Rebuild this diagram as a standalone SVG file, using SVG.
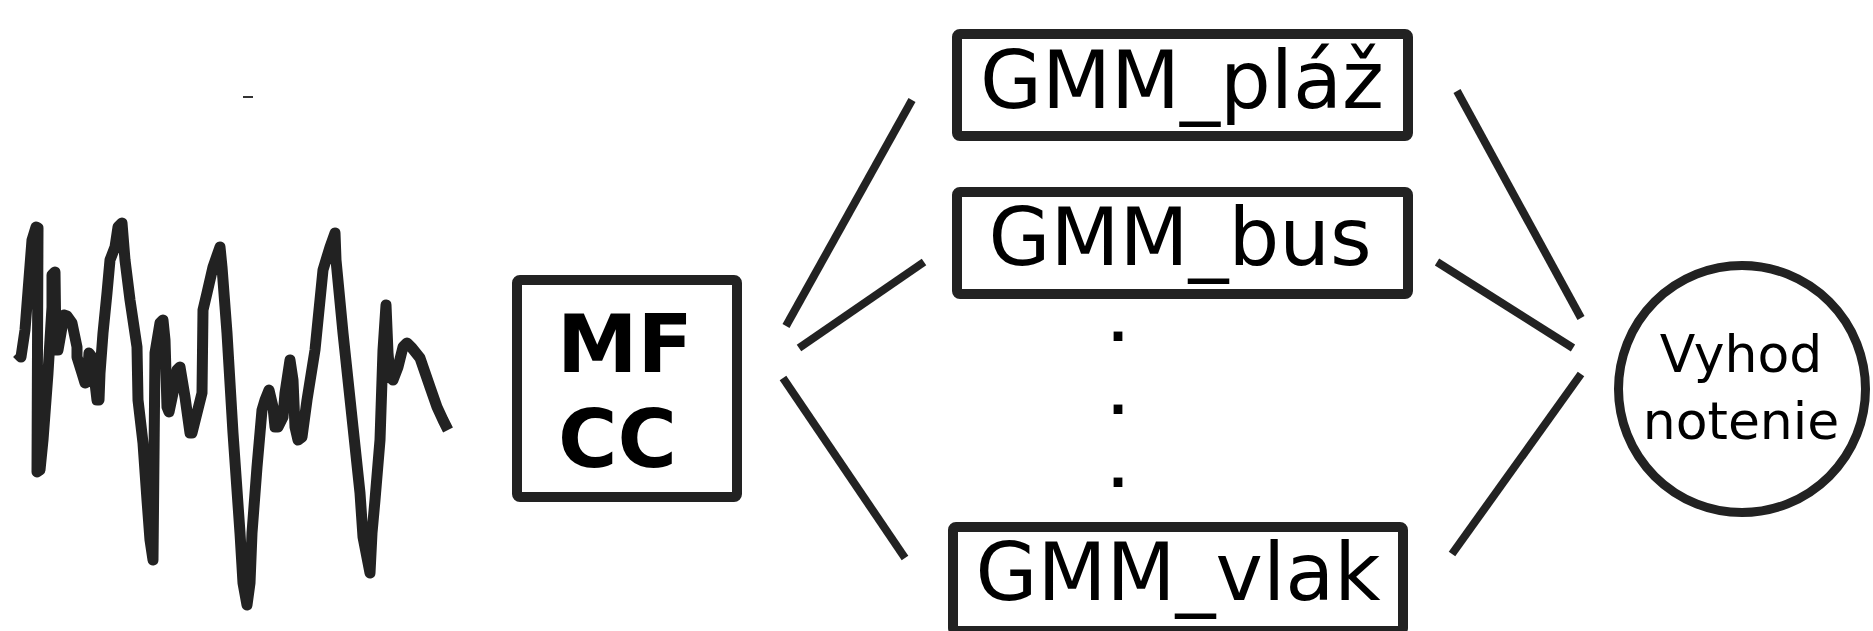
<svg xmlns="http://www.w3.org/2000/svg" width="1873" height="631" viewBox="0 0 1873 631">
  <style>
    .box { fill: #fff; stroke: #222; stroke-width: 10; }
    .edge { stroke: #222; stroke-width: 8; fill: none; }
    .lbl { font-family: "DejaVu Sans", sans-serif; fill: #000; }
    .gmm { font-size: 80px; text-anchor: middle; }
    .dot { font-size: 50px; font-weight: bold; text-anchor: middle; }
  </style>
  <rect width="1873" height="631" fill="#fff"/>

  <!-- input signal -->
  <g id="signal">
    <path d="M17,353 L21,357 L25,330 L32,240 L36,227 L38,228 L37,472 L40,470 L43,440 L48,373 L52,307 L52,275 L55,272 L56,350 L58,350 L61,333 L64,315 L67,316 L72,323 L77,347 L77,357 L82,373 L85,383 L87,382 L89,353 L92,357 L97,400 L99,400 L100,373 L103,333 L107,293 L110,260 L115,247 L118,227 L122,223 L125,260 L130,300 L137,347 L138,400 L143,443 L147,500 L150,540 L153,560 L155,353 L160,323 L163,320 L165,340 L167,407 L169,412 L173,393 L177,370 L180,367 L185,397 L190,433 L192,433 L197,413 L202,393 L203,310 L207,293 L213,267 L220,247 L222,267 L227,333 L233,433 L240,533 L243,583 L247,605 L250,583 L252,533 L257,467 L262,410 L265,400 L269,390 L273,407 L275,427 L278,427 L283,417 L285,393 L290,360 L293,380 L295,427 L298,440 L302,437 L307,400 L315,350 L323,270 L330,247 L335,233 L336,260 L343,333 L353,427 L360,493 L363,537 L370,573 L372,533 L375,500 L380,440 L383,350 L386,305 L388,353 L390,377 L393,380 L398,367 L403,347 L407,343 L412,348 L420,358 L430,387 L437,407 L443,420 L448,430"
          fill="none" stroke="#222" stroke-width="11" stroke-linejoin="round" stroke-linecap="butt"/>
    <line x1="243" y1="97" x2="253" y2="97" stroke="#333" stroke-width="2"/>
  </g>

  <!-- feature extraction -->
  <g id="mfcc">
    <rect class="box" x="517" y="280" width="220" height="217" rx="3"/>
    <text class="lbl" x="557" y="372" font-size="81" font-weight="bold">MF</text>
    <text class="lbl" x="558" y="467" font-size="81" font-weight="bold">CC</text>
  </g>

  <!-- class models -->
  <g id="gmm-plaz">
    <rect class="box" x="957" y="34" width="451" height="102" rx="3"/>
    <text class="lbl gmm" x="1182" y="108">GMM_pláž</text>
  </g>
  <g id="gmm-bus">
    <rect class="box" x="957" y="192" width="451" height="102" rx="3"/>
    <text class="lbl gmm" x="1180" y="265">GMM_bus</text>
  </g>
  <g id="ellipsis">
    <text class="lbl dot" x="1118" y="341">.</text>
    <text class="lbl dot" x="1118" y="414">.</text>
    <text class="lbl dot" x="1118" y="487">.</text>
  </g>
  <g id="gmm-vlak">
    <rect class="box" x="953" y="527" width="450" height="104" rx="3"/>
    <text class="lbl gmm" x="1178" y="600">GMM_vlak</text>
  </g>

  <!-- decision -->
  <g id="vyhodnotenie">
    <circle cx="1742" cy="389" r="123.5" fill="#fff" stroke="#222" stroke-width="9"/>
    <text class="lbl" x="1741" y="372" font-size="52" text-anchor="middle">Vyhod</text>
    <text class="lbl" x="1741" y="439" font-size="52" text-anchor="middle">notenie</text>
  </g>

  <!-- connectors -->
  <g id="connectors">
    <line class="edge" x1="786" y1="326" x2="912" y2="100"/>
    <line class="edge" x1="799" y1="348" x2="924" y2="262"/>
    <line class="edge" x1="783" y1="378" x2="905" y2="558"/>
    <line class="edge" x1="1457" y1="91" x2="1581" y2="318"/>
    <line class="edge" x1="1437" y1="262" x2="1573" y2="348"/>
    <line class="edge" x1="1581" y1="374" x2="1452" y2="554"/>
  </g>
</svg>
